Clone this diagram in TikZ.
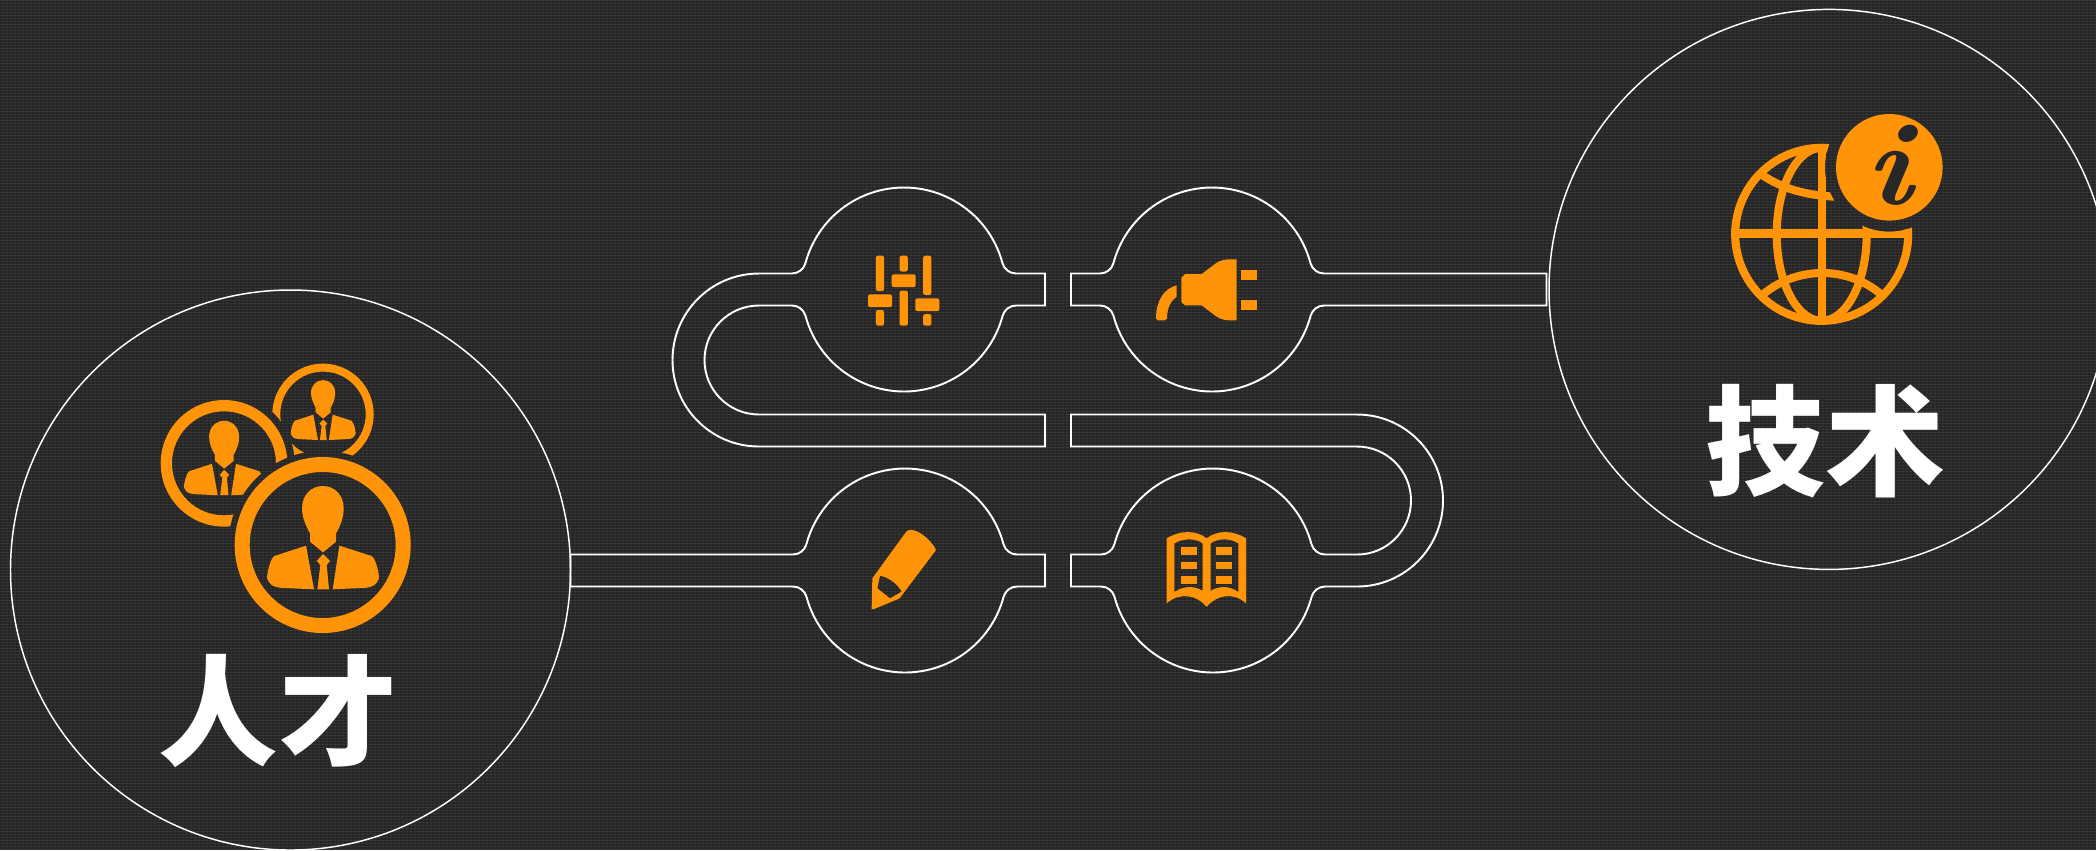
\documentclass[tikz,border=0pt]{standalone}
\usepackage{fontspec}
\usepackage{xcolor}
\newfontfamily\cjkbold{Noto Sans CJK SC Black}
\definecolor{paneldark}{HTML}{373737}
\definecolor{iconorange}{HTML}{FF9408}
\tikzset{
  pipeline/.style={draw=white,line width=0.55pt},
  bigring/.style={draw=white,line width=0.42pt},
  iconfill/.style={fill=iconorange,even odd rule},
  grid line/.style={iconorange,line width=2.3pt},
  bigword/.style={text=white,font=\cjkbold\fontsize{34}{34}\selectfont,inner sep=0pt},
  bulbover/.style={insert path={arc[start angle=90,end angle=165,radius=14] arc[start angle=-15,end angle=-165,radius=102] arc[start angle=15,end angle=90,radius=14]}},
  bulbunder/.style={insert path={arc[start angle=-90,end angle=-15,radius=14] arc[start angle=165,end angle=15,radius=102] arc[start angle=195,end angle=270,radius=14]}},
  person/.pic={
    \begin{scope}[yscale=-1]
    \fill[iconfill] (-38,35) -- (-38,10) -- (1,-22) -- (40,10) -- (40,35)
      .. controls (55,60) and (63,85) .. (63,110) .. controls (63,150) and (35,177) .. (1,177)
      .. controls (-35,177) and (-62,150) .. (-62,110) .. controls (-62,85) and (-52,60) .. (-38,35) -- cycle;
    \fill[iconfill] (-50,-2) -- (-145,-33) .. controls (-158,-42) and (-167,-85) .. (-167,-100)
      .. controls (-160,-118) and (-150,-125) .. (-130,-128) -- (-26,-133) -- cycle;
    \fill[iconfill] (50,-2) -- (147,-33) .. controls (160,-42) and (169,-85) .. (169,-100)
      .. controls (162,-118) and (152,-125) .. (132,-128) -- (30,-133) -- cycle;
    \fill[iconfill] (1,-27) -- (22,-48) -- (12,-60) -- (19,-133) -- (-16,-133) -- (-7,-60) -- (-18,-48) -- cycle;
    \end{scope}
  }
}

\begin{document}
\begin{tikzpicture}[x=0.01cm,y=-0.01cm]
  \useasboundingbox (0,0) rectangle (2096,850);
  \begin{scope}
  \clip (0,0) rectangle (2096,850);
  \fill[paneldark] (0,0) rectangle (2096,850);
  \foreach \rowy in {2,5,...,850}
    \draw[black,opacity=0.22,line width=0.3pt] (0,\rowy) -- (2096,\rowy);
  \foreach \colx in {1,5,...,2096}
    \draw[black,opacity=0.12,line width=0.3pt] (\colx,0) -- (\colx,850);
  \draw[bigring] (290.5,570) circle (280);
  \draw[bigring] (1829,289.4) circle (280);

  % pipes
  \draw[pipeline] (1045,273.5) -- (1016,273.5) [bulbover] -- (759,273.5)
    arc[start angle=-90,end angle=-270,radius=86.5] -- (1045,446.5) -- (1045,414.5) -- (759,414.5)
    arc[start angle=90,end angle=270,radius=54.5] -- (792,305.5) [bulbunder] -- (1045,305.5) -- cycle;
  \draw[pipeline] (1546.5,273.5) -- (1324,273.5) [bulbover] -- (1071,273.5) -- (1071,305.5)
    -- (1100,305.5) [bulbunder] -- (1546.5,305.5) -- cycle;
  \draw[pipeline] (1045,554.5) -- (1017,554.5) [bulbover] -- (570.5,554.5) -- (570.5,586.5)
    -- (793,586.5) [bulbunder] -- (1045,586.5) -- cycle;
  \draw[pipeline] (1071,586.5) -- (1101,586.5) [bulbunder] -- (1357,586.5)
    arc[start angle=90,end angle=-90,radius=86] -- (1071,414.5) -- (1071,446.5) -- (1357,446.5)
    arc[start angle=-90,end angle=90,radius=54] -- (1325,554.5) [bulbover] -- (1071,554.5) -- cycle;

  % faders
  \foreach \barx/\ya/\yb/\yc/\yd in {880/255.7/291/310/325.7,903.7/255.7/271.5/290.5/325.7,927.3/255.7/295/314/325.7} {
    \fill[iconorange,rounded corners=0.6pt] (\barx-4.1,\ya) rectangle (\barx+4.1,\yb);
    \fill[iconorange,rounded corners=0.6pt] (\barx-4.1,\yc) rectangle (\barx+4.1,\yd);
  }
  \foreach \knobx/\knoby in {880/300.7,903.7/280.7,927.3/304.7}
    \fill[iconorange,rounded corners=0.6pt] (\knobx-12,\knoby-6.4) rectangle (\knobx+12,\knoby+6.4);

  % plug
  \begin{scope}[shift={(840,240)},scale=1/3]
    \fill[iconorange] (1035,102) -- (1085,102) -- (1130,68) .. controls (1145,60) and (1155,58) .. (1170,58) -- (1190,58) -- (1190,241)
      -- (1170,241) .. controls (1155,241) and (1145,238) .. (1130,230) -- (1085,196) -- (1035,196) -- (1024,186) -- (1024,113) -- cycle;
    \fill[iconorange] (1204,89) rectangle (1250,121);
    \fill[iconorange] (1204,179) rectangle (1250,211);
    \fill[iconorange] (1010,136) .. controls (970,146) and (948,185) .. (948,235) -- (953,241) -- (975,241) -- (981,235)
      .. controls (981,205) and (992,182) .. (1010,170) -- cycle;
  \end{scope}

  % pencil
  \begin{scope}[shift={(840,510)},scale=1/3]
    \fill[iconfill] (95,297) -- (97,205) -- (198,66) .. controls (205,58) and (215,58) .. (225,62)
      .. controls (250,70) and (280,100) .. (288,120) -- (184,258) .. controls (182,263) and (178,266) .. (172,268) -- (102,297) -- cycle
      (120,197) .. controls (150,203) and (175,225) .. (185,245) -- (150,265) -- (112,235) -- cycle;
  \end{scope}

  % book
  \begin{scope}[shift={(840,510)},scale=1/3]
    \fill[iconfill] (980,85) .. controls (1020,60) and (1070,60) .. (1100,85) .. controls (1130,60) and (1180,60) .. (1218,85)
      -- (1218,280) .. controls (1180,245) and (1130,255) .. (1100,290) .. controls (1070,255) and (1020,245) .. (980,280) -- cycle
      (1003,100) .. controls (1030,84) and (1065,84) .. (1088,100) -- (1088,242) .. controls (1060,226) and (1030,228) .. (1003,246) -- cycle
      (1112,100) .. controls (1135,84) and (1170,84) .. (1195,100) -- (1195,246) .. controls (1170,228) and (1140,226) .. (1112,242) -- cycle;
    \foreach \liney in {112,155,199} {
      \fill[iconorange] (1023,\liney) rectangle (1070,\liney+22);
      \fill[iconorange] (1128,\liney) rectangle (1175,\liney+22);
    }
  \end{scope}

  % people
  \begin{scope}[even odd rule]
    \clip (0,0) rectangle (2096,850) (322.7,545) circle (94.3);
    \begin{scope}[even odd rule]
      \clip (0,0) rectangle (2096,850) (224,463.3) circle (70.7);
      \fill[iconfill] (323,414.3) circle (50.7) (323,414.3) circle (42.7);
    \end{scope}
    \fill[iconfill] (224,463.3) circle (63.3) (224,463.3) circle (52);
    \pic[scale=1/3*0.72] at (224,463.3) {person};
    \pic[scale=1/3*0.58] at (323,414.3) {person};
  \end{scope}
  \fill[iconfill] (322.7,545) circle (88) (322.7,545) circle (73);
  \pic[scale=1/3] at (322.7,545) {person};

  % globe
  \begin{scope}[even odd rule]
    \clip (0,0) rectangle (2096,850) (1889.3,167.3) circle (64.3);
    \draw[grid line] (1821.7,234.3) circle (86.5);
    \draw[grid line] (1821.7,144) -- (1821.7,325);
    \draw[grid line] (1731,233.5) -- (1912,233.5);
    \draw[grid line] (1821.7,234.3) ellipse (45 and 86.5);
    \draw[grid line] (1758,172) .. controls (1785,192) and (1815,197) .. (1850,197);
    \draw[grid line] (1760,297) .. controls (1795,265) and (1850,265) .. (1884,297);
  \end{scope}
  \fill[iconorange] (1889.3,167.3) circle (53.3);
  \node[text=paneldark!70!black,inner sep=0pt,xscale=1.2,yscale=1.08,transform shape,font=\rmfamily\bfseries\itshape\fontsize{31}{31}\selectfont] (infoi) at (1888.7,165.7) {i};

  % captions
  \node[bigword] (rencai) at (278,711) {人才};
  \node[bigword] (jishu) at (1825,441) {技术};
  \end{scope}
\end{tikzpicture}
\end{document}
